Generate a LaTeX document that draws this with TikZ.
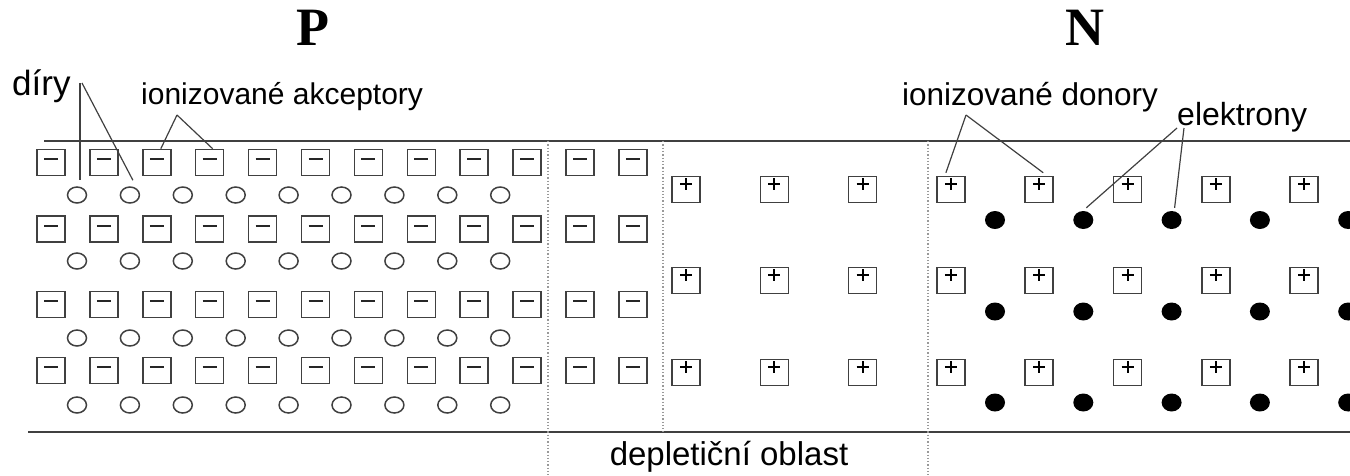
\documentclass[tikz,border=0pt]{standalone}
\usepackage{fontspec}
\setmainfont{Liberation Sans}
\newfontfamily\pnfont{Liberation Serif}
\usetikzlibrary{shapes.geometric,calc}
\definecolor{boxgray}{gray}{0.25}
\definecolor{dotgray}{gray}{0.6}
\tikzset{
  chargebox/.style={draw=boxgray, line width=1.5pt, minimum width=28pt, minimum height=26pt, inner sep=0pt},
  minusbox/.style={chargebox, path picture={\draw[line width=2pt, black!85] ([xshift=-7pt,yshift=3.5pt]path picture bounding box.center) -- ++(14pt,0pt);}},
  plusbox/.style={chargebox, path picture={
     \draw[line width=2pt, black] ([xshift=-6pt,yshift=5.5pt]path picture bounding box.center) -- ++(12pt,0pt);
     \draw[line width=2pt, black] ([yshift=11.5pt]path picture bounding box.center) -- ++(0pt,-12pt);}},
  hole/.style={ellipse, draw=boxgray, line width=1.5pt, minimum width=19pt, minimum height=16pt, inner sep=0pt},
  electron/.style={ellipse, fill=black, minimum width=20pt, minimum height=18pt, inner sep=0pt},
  lbl/.style={inner sep=0pt, font=\fontsize{30}{36}\selectfont},
  pnlbl/.style={inner sep=0pt, font=\pnfont\bfseries\fontsize{54}{60}\selectfont},
  leader/.style={draw=boxgray, line width=1.2pt},
  border/.style={draw=boxgray, line width=2pt},
  divider/.style={draw=dotgray, line width=1.3pt, dotted}
}
\begin{document}
\begin{tikzpicture}[x=1pt,y=-1pt]
\useasboundingbox (0,0) rectangle (1350,475);
\clip (0,0) rectangle (1350,475);
% region borders
\draw[border] (44,141) -- (1350,141);
\draw[border] (28,432) -- (1350,432);
\draw[divider] (548,141) -- (548,475);
\draw[divider] (663,141) -- (663,432);
\draw[divider] (928,141) -- (928,475);
% ionized acceptors
\foreach \r/\y in {1/162.5, 2/229, 3/304.5, 4/370.5}
  \foreach \c in {0,...,11}
    \node[minusbox] (m-\r-\c) at ({51+52.9*\c},\y) {};
% holes
\foreach \r/\y in {1/195, 2/261, 3/338, 4/405}
  \foreach \c in {0,...,8}
    \node[hole] (h-\r-\c) at ({77+52.9*\c},\y) {};
% ionized donors
\foreach \r/\y in {1/189.5, 2/280.5, 3/372.5}
  \foreach \c in {0,...,7}
    \node[plusbox] (p-\r-\c) at ({686+88.3*\c},\y) {};
% electrons
\foreach \r/\y in {1/220, 2/311.5, 3/402.5}
  \foreach \c in {0,...,4}
    \node[electron] (e-\r-\c) at ({995+88.3*\c},\y) {};
% titles
\node[pnlbl, anchor=base] (P) at (313,45) {P};
\node[pnlbl, anchor=base] (N) at (1084.5,45) {N};
% labels
\node[lbl, anchor=base west, font=\fontsize{35}{40}\selectfont] (diry) at (12,95) {díry};
\node[lbl, anchor=base west] (akc) at (141,104) {ionizované akceptory};
\node[lbl, anchor=base west, font=\fontsize{31.5}{36}\selectfont] (don) at (902,105) {ionizované donory};
\node[lbl, anchor=base west, font=\fontsize{32}{36}\selectfont] (ele) at (1177,125) {elektrony};
\node[lbl, anchor=base, font=\fontsize{33}{38}\selectfont] (depl) at (729,465) {depletiční oblast};
% leader vertices
\coordinate (dv1) at (80,83);
\coordinate (dv2) at (82,83);
\coordinate (av) at (177,115);
\coordinate (dnv) at (966,115);
\coordinate (ev1) at (1177,128);
\coordinate (ev2) at (1184,128);
% leaders
\draw[leader] (dv1) -- ($(h-1-0.north)+(3,-6)$);
\draw[leader] (dv2) -- ($(h-1-1.north)+(3,-6)$);
\draw[leader] (av) -- ($(m-1-2.north)+(4,0)$);
\draw[leader] (av) -- ($(m-1-3.north)+(3,0)$);
\draw[leader] (dnv) -- ($(p-1-3.north)+(-5,-3)$);
\draw[leader] (dnv) -- ($(p-1-4.north)+(4,-3)$);
\draw[leader] (ev1) -- ($(e-1-1.north)+(3,-3)$);
\draw[leader] (ev2) -- ($(e-1-2.north)+(3,-3)$);
\end{tikzpicture}
\end{document}
